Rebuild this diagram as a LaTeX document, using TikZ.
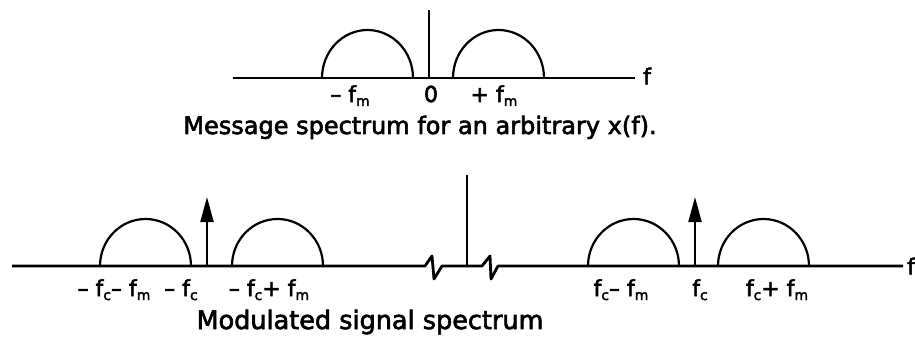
\documentclass[tikz,border=0pt]{standalone}
\usepackage{fontspec}
\newfontfamily\plotfont[FakeBold=2.5]{DejaVu Sans}
\usetikzlibrary{arrows.meta,positioning}
\newcommand{\fsub}[1]{f\raisebox{-4pt}{\fontsize{14}{14}\selectfont #1}}

\begin{document}
\begin{tikzpicture}[
    x=1pt, y=1pt,
    >={Triangle[length=25pt,width=13pt]},
    axis/.style={line width=2.8pt},
    lobe/.style={line width=2.2pt},
    zero/.style={line width=1.8pt},
    carrier/.style={->, line width=2.2pt},
    lbl/.style={font=\plotfont\fontsize{22}{24}\selectfont, inner sep=0pt, anchor=base},
    caption/.style={font=\plotfont\fontsize{24}{26}\selectfont, inner sep=0pt, anchor=base}
]
    \useasboundingbox (0,0) rectangle (915,346);

    \coordinate (msgstart) at (233,268);
    \coordinate (msgend) at (635,268);
    \coordinate (msgzero) at (429,268);
    \coordinate (msgtop) at (429,336);
    \draw[axis] (msgstart) -- (msgend);
    \draw[zero] (msgzero) -- (msgtop);
    \draw[lobe] (322,268) arc[start angle=180, end angle=0, x radius=45.5, y radius=48];
    \draw[lobe] (453,268) arc[start angle=180, end angle=0, x radius=45.5, y radius=48];
    \node[lbl, anchor=west] (msgf) at (643,270) {f};
    \node[lbl] (negfm) at (350,244) {\textendash\ \fsub{m}};
    \node[lbl] (zerolbl) at (431,244) {0};
    \node[lbl] (posfm) at (494,244) {+ \fsub{m}};
    \node[caption] (msgcap) at (420,212) {Message spectrum for an arbitrary x(f).};

    \coordinate (modstart) at (12,80);
    \coordinate (modend) at (903,80);
    \coordinate (modzero) at (467,80);
    \coordinate (modtop) at (467,171);
    \draw[axis, line join=round] (modstart) -- (425,80) -- (432,90) -- (434,67) -- (442,80)
        -- (482,80) -- (490,90) -- (491,67) -- (498,80) -- (modend);
    \draw[zero] (modzero) -- (modtop);
    \draw[lobe] (100,80) arc[start angle=180, end angle=0, x radius=45.5, y radius=47];
    \draw[lobe] (232,80) arc[start angle=180, end angle=0, x radius=45.5, y radius=47];
    \draw[lobe] (588,80) arc[start angle=180, end angle=0, x radius=45.5, y radius=47];
    \draw[lobe] (718,80) arc[start angle=180, end angle=0, x radius=45.5, y radius=47];
    \coordinate (negfc) at (207,80);
    \coordinate (negfctip) at (207,149);
    \coordinate (posfc) at (695,80);
    \coordinate (posfctip) at (695,149);
    \draw[carrier] (negfc) -- (negfctip);
    \draw[carrier] (posfc) -- (posfctip);
    \node[lbl, anchor=west] (modf) at (907,80) {f};
    \node[lbl] (lsblbl) at (114,50) {\textendash\ \fsub{c}\textendash\ \fsub{m}};
    \node[lbl] (nfclbl) at (181,50) {\textendash\ \fsub{c}};
    \node[lbl] (usblbl) at (269,50) {\textendash\ \fsub{c}+ \fsub{m}};
    \node[lbl] (plsblbl) at (621,50) {\fsub{c}\textendash\ \fsub{m}};
    \node[lbl] (pfclbl) at (700,50) {\fsub{c}};
    \node[lbl] (pusblbl) at (777,50) {\fsub{c}+ \fsub{m}};
    \node[caption, font=\plotfont\fontsize{25.5}{28}\selectfont] (modcap) at (370,17) {Modulated signal spectrum};
\end{tikzpicture}
\end{document}
